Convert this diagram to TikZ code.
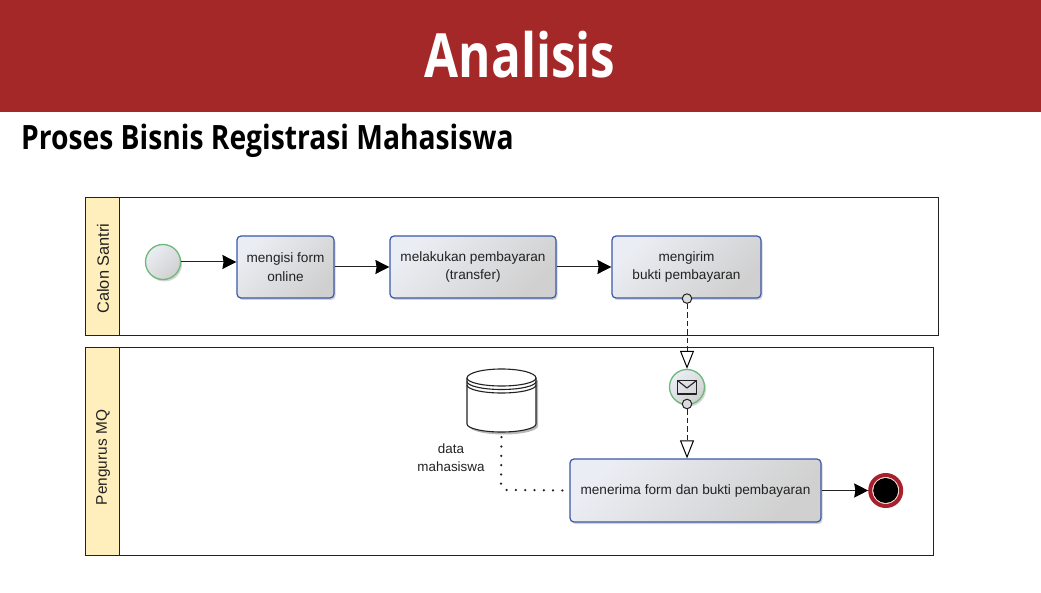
\documentclass[tikz,border=0pt]{standalone}
\usepackage{fontspec}
\setmainfont{Liberation Sans}
\newfontfamily\headfont[FakeStretch=0.81]{Open Sans}
\newfontfamily\subfont[FakeStretch=0.843]{Open Sans}
\usetikzlibrary{arrows.meta,shadows,positioning}
\definecolor{band}{HTML}{A52828}
\definecolor{lanehead}{HTML}{FFEFBC}
\definecolor{taskedge}{HTML}{3A58A6}
\definecolor{evgreen}{HTML}{6DB97A}
\definecolor{endred}{HTML}{A81F2E}
\definecolor{ink}{HTML}{222222}
\definecolor{glosstop}{HTML}{EAEDF3}
\definecolor{glossend}{HTML}{D0D0D0}
\tikzset{
  softshadow/.style={drop shadow={shadow xshift=1.5pt,shadow yshift=-2pt,opacity=.28,fill=black!60}},
  gloss/.style={top color=#1,bottom color=glossend,shading angle=45},
  lane/.style={draw=ink,line width=1.2pt,fill=white,rectangle,inner sep=0pt,anchor=north west},
  lanehd/.style={draw=ink,line width=1.2pt,fill=lanehead,rectangle,inner sep=0pt,anchor=north west,minimum width=34pt},
  lanetxt/.style={rotate=90,text=ink,inner sep=0pt},
  task/.style={draw=taskedge,line width=1.2pt,rounded corners=4pt,gloss=glosstop,softshadow,
    rectangle,inner sep=0pt,align=center,text=ink,font=\fontsize{13.6}{18.5}\selectfont},
  event/.style={circle,draw=evgreen,line width=1.3pt,gloss=glosstop,softshadow,inner sep=0pt,minimum size=35pt},
  seqflow/.style={draw=ink,line width=1pt,-{Stealth[inset=1.2pt,length=14pt,width=14pt,black]}},
  msgflow/.style={draw=ink,line width=1pt,dash pattern=on 5.5pt off 3pt,-{Triangle[open,length=18pt,width=14pt,fill=white,black]}},
  msgdot/.style={circle,draw=ink,line width=1pt,fill=black!14,inner sep=0pt,minimum size=9.5pt},
  assoc/.style={draw=ink,line width=2.5pt,line cap=round,dash pattern=on 0pt off 9.3pt},
  lbl/.style={font=\fontsize{13.4}{18}\selectfont,text=ink,align=center,inner sep=0pt},
}
\begin{document}
\begin{tikzpicture}[x=1pt,y=-1pt]
\useasboundingbox (0,0) rectangle (1041,593);
\fill[band] (0,0) rectangle (1041,112);
\node[text=white,inner sep=0pt,font=\headfont\bfseries\fontsize{61}{61}\selectfont] (title) at (520,55) {Analisis};
\node[anchor=west,text=black,inner sep=0pt,font=\subfont\bfseries\fontsize{33.5}{36}\selectfont] (heading) at (21,141) {Proses Bisnis Registrasi Mahasiswa};

% lanes
\node[lane,minimum width=853pt,minimum height=138pt] (lane1) at (85,197) {};
\node[lanehd,minimum height=138pt] (hd1) at (85,197) {};
\node[lanetxt,font=\fontsize{16.4}{18}\selectfont] (t1) at (103,268.5) {Calon Santri};
\node[lane,minimum width=848pt,minimum height=208pt] (lane2) at (85,347) {};
\node[lanehd,minimum height=208pt] (hd2) at (85,347) {};
\node[lanetxt,font=\fontsize{15.4}{18}\selectfont] (t2) at (103,457.5) {Pengurus MQ};

% flow objects
\node[event] (start) at (163,262) {};
\node[task,minimum width=97pt,minimum height=62pt] (a) at (285.5,267) {mengisi form\\online};
\node[task,minimum width=166pt,minimum height=62pt] (b) at (473,267) {melakukan pembayaran\\(transfer)};
\node[task,minimum width=149pt,minimum height=62pt] (c) at (686.5,267) {mengirim\\bukti pembayaran};
\node[task,minimum width=251pt,minimum height=63pt] (d) at (695.5,490.5) {menerima form dan bukti pembayaran};
\node[event] (msg) at (687,387) {};
\draw[ink,line width=1.1pt,line join=round] (677.5,380.5) rectangle (696.5,394);
\draw[ink,line width=1.1pt,line join=round] (677.5,380.5) -- (687,388) -- (696.5,380.5);

% end event
\node[circle,draw=endred,line width=4pt,fill=white!85!orange,softshadow,inner sep=0pt,minimum size=31pt] (endring) at (885.7,490.5) {};
\node[circle,fill=black,inner sep=0pt,minimum size=25pt] (endcore) at (885.7,490.5) {};

% data store
\node[inner sep=0pt,minimum width=69pt,minimum height=63pt] (db) at (501.5,401) {};
\fill[black,opacity=.28] (469,380) -- (469,426) arc[start angle=180,end angle=0,x radius=34.5,y radius=8.5] -- (538,380) -- cycle;
\draw[ink,line width=1.1pt,fill=white] (467,378) -- (467,424)
  arc[start angle=180,end angle=0,x radius=34.5,y radius=8] -- (536,378)
  arc[start angle=0,end angle=-180,x radius=34.5,y radius=9] -- cycle;
\draw[ink,line width=1.1pt] (467,378) arc[start angle=180,end angle=0,x radius=34.5,y radius=8];
\draw[ink,line width=1.1pt] (467,381.5) arc[start angle=180,end angle=0,x radius=34.5,y radius=8];
\draw[ink,line width=1.1pt] (467,385) arc[start angle=180,end angle=0,x radius=34.5,y radius=8];
\node[lbl] (dblabel) at (451,458) {data\\mahasiswa};

% connectors
\draw[seqflow] (start) -- (a.west |- start);
\draw[seqflow] (a) -- (b);
\draw[seqflow] (b) -- (c);
\draw[seqflow] (d) -- (endring);
\node[msgdot] (m1) at (c.south -| msg) {};
\node[msgdot] (m2) at (687,404) {};
\draw[msgflow] (m1) -- (msg);
\draw[msgflow] (m2) -- (m2 |- d.north);
\coordinate (bend) at (501,486);
\coordinate (bend2) at (506,490);
\draw[assoc,shorten <=4.5pt,shorten >=6pt] (db.south) -- (bend) -- (bend2) -- (d.west);
\end{tikzpicture}
\end{document}
